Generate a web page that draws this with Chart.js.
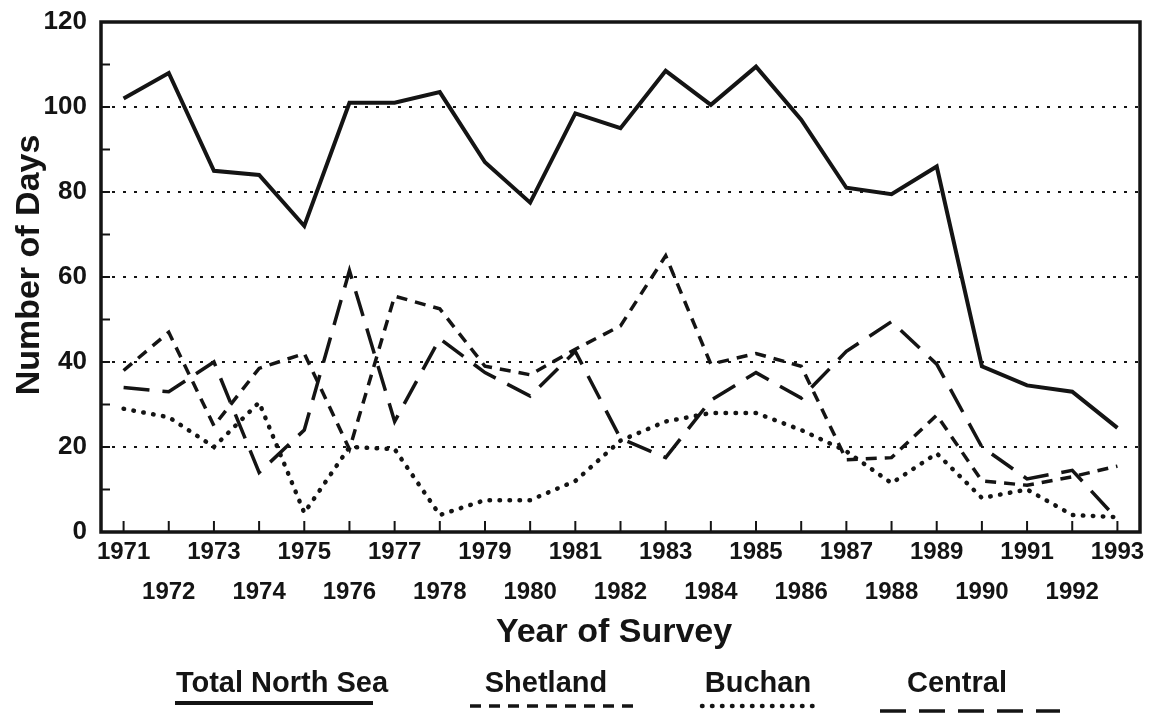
<!DOCTYPE html>
<html>
<head>
<meta charset="utf-8">
<script src="https://cdn.jsdelivr.net/npm/chart.js@4"></script>
<style>
  body { margin: 0; background: #fff; }
  #wrap { width: 1157px; height: 715px; }
</style>
</head>
<body>
<div id="wrap"><canvas id="grafico" width="1157" height="715"></canvas></div>
<script>
// years of survey
const anios = ['1971','1972','1973','1974','1975','1976','1977','1978','1979','1980','1981','1982',
  '1983','1984','1985','1986','1987','1988','1989','1990','1991','1992','1993']

// number of days per area
const totalNorthSea = [102, 108, 85, 84, 72, 101, 101, 103.5, 87, 77.5, 98.5, 95, 108.5, 100.5, 109.5, 97, 81, 79.5, 86, 39, 34.5, 33, 24.5]
const shetland = [38, 47, 25, 38.5, 42, 19.5, 55.5, 52.5, 39, 37, 43, 48.5, 65, 39.5, 42, 39, 17, 17.5, 27.5, 12, 11, 13, 15.5]
const buchan = [29, 27, 20, 30.5, 4.5, 20, 19.5, 4, 7.5, 7.5, 12, 21.5, 26, 28, 28, 24, 19, 11.5, 18.5, 8, 10, 4, 3.5]
const central = [34, 33, 40, 14, 24, 61.5, 26, 45.5, 37.5, 32, 42.5, 22, 17.5, 31, 37.5, 31.5, 42.5, 49.5, 39.5, 20, 12.5, 14.5, 3]

const yTicks = [0, 20, 40, 60, 80, 100, 120]

const NEGRO = '#141414'
const FUENTE = '"Liberation Sans", Arial, Helvetica, sans-serif'

// frame, inside tick marks, axis titles and legend
const extras = {
  id: 'extras',
  afterDraw(chart) {
    const ctx = chart.ctx
    const area = chart.chartArea
    const x = chart.scales.x
    const y = chart.scales.y
    ctx.save()
    ctx.strokeStyle = NEGRO
    ctx.lineWidth = 2
    ctx.setLineDash([])
    // x tick marks pointing up
    anios.forEach((a, i) => {
      const px = x.getPixelForValue(i)
      ctx.beginPath()
      ctx.moveTo(px, area.bottom)
      ctx.lineTo(px, area.bottom - 11)
      ctx.stroke()
    })
    // y tick marks every 10
    for (let v = 10; v < 120; v += 10) {
      const py = y.getPixelForValue(v)
      ctx.beginPath()
      ctx.moveTo(area.left, py)
      ctx.lineTo(area.left + 9, py)
      ctx.stroke()
    }
    // frame
    ctx.lineWidth = 3.5
    ctx.strokeRect(area.left, area.top, area.right - area.left, area.bottom - area.top)

    // axis titles
    ctx.fillStyle = NEGRO
    ctx.textAlign = 'center'
    ctx.textBaseline = 'middle'
    ctx.font = 'bold 34px ' + FUENTE
    ctx.fillText('Year of Survey', 614, 633)
    ctx.save()
    ctx.translate(30, 265)
    ctx.rotate(-Math.PI / 2)
    ctx.fillText('Number of Days', 0, 0)
    ctx.restore()

    // legend: name above a line sample
    const items = [
      { texto: 'Total North Sea', tx: 282, x1: 175, x2: 373, ly: 703, ds: 0 },
      { texto: 'Shetland', tx: 546, x1: 470, x2: 640, ly: 706, ds: 1 },
      { texto: 'Buchan', tx: 758, x1: 702, x2: 815, ly: 706, ds: 2 },
      { texto: 'Central', tx: 957, x1: 880, x2: 1060, ly: 711, ds: 3 }
    ]
    ctx.font = 'bold 29px ' + FUENTE
    items.forEach(it => {
      const d = chart.data.datasets[it.ds]
      ctx.fillStyle = NEGRO
      ctx.fillText(it.texto, it.tx, 684)
      ctx.beginPath()
      ctx.strokeStyle = d.borderColor
      ctx.lineWidth = d.borderWidth
      ctx.lineCap = d.borderCapStyle || 'butt'
      ctx.setLineDash(d.borderDash || [])
      ctx.moveTo(it.x1, it.ly)
      ctx.lineTo(it.x2, it.ly)
      ctx.stroke()
    })
    ctx.restore()
  }
}

const ctxGraf = document.getElementById('grafico').getContext('2d')
const chart = new Chart(ctxGraf, {
  type: 'line',
  data: {
    labels: anios,
    datasets: [
      { label: 'Total North Sea', data: totalNorthSea, borderColor: NEGRO, borderWidth: 4, borderDash: [] },
      { label: 'Shetland', data: shetland, borderColor: NEGRO, borderWidth: 3.5, borderDash: [11, 8] },
      { label: 'Buchan', data: buchan, borderColor: NEGRO, borderWidth: 4.5, borderDash: [0.5, 9.5], borderCapStyle: 'round' },
      { label: 'Central', data: central, borderColor: NEGRO, borderWidth: 3.5, borderDash: [26, 13] }
    ]
  },
  options: {
    responsive: false,
    animation: false,
    layout: { padding: { top: 22, right: 17, left: 0, bottom: 0 } },
    elements: {
      point: { radius: 0 },
      line: { tension: 0, fill: false }
    },
    plugins: {
      legend: { display: false },
      tooltip: { enabled: false }
    },
    scales: {
      x: {
        type: 'category',
        offset: true,
        grid: { display: false, drawTicks: false },
        border: { display: false },
        ticks: {
          autoSkip: false,
          maxRotation: 0,
          minRotation: 0,
          padding: 0,
          color: NEGRO,
          font: { family: FUENTE, size: 24, weight: 'bold', lineHeight: 40 / 24 },
          callback: (val, i) => i % 2 === 0 ? [anios[i]] : ['', anios[i]]
        },
        afterFit: s => { s.height = 183; s.paddingLeft = 0; s.paddingRight = 0 }
      },
      y: {
        min: 0,
        max: 120,
        afterBuildTicks: s => { s.ticks = yTicks.map(v => ({ value: v })) },
        grid: {
          drawTicks: false,
          lineWidth: 2,
          color: c => (c.tick.value === 0 || c.tick.value === 120) ? 'rgba(0,0,0,0)' : NEGRO
        },
        border: { display: false, dash: [3, 8] },
        ticks: {
          padding: 14,
          color: NEGRO,
          font: { family: FUENTE, size: 26, weight: 'bold' }
        },
        afterFit: s => { s.width = 101; s.paddingTop = 0; s.paddingBottom = 0 }
      }
    }
  },
  plugins: [extras]
})
</script>
</body>
</html>
